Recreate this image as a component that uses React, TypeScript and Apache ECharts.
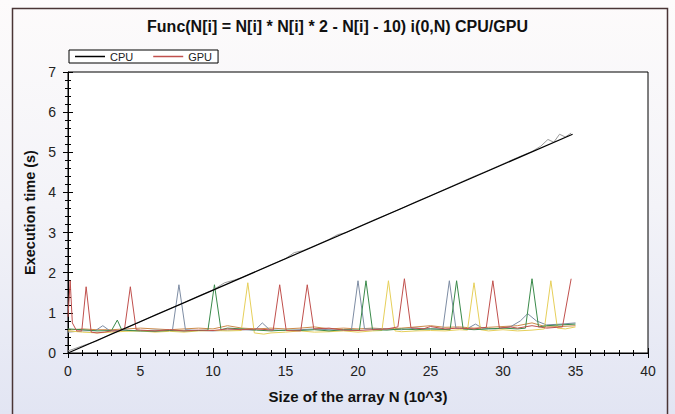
import React, { useEffect, useRef } from 'react';
import * as echarts from 'echarts';

const TITLE = 'Func(N[i] = N[i] * N[i] * 2 - N[i] - 10) i(0,N) CPU/GPU';
const X_NAME = 'Size of the array N (10^3)';
const Y_NAME = 'Execution time (s)';
const X_MIN = 0;
const X_MAX = 40;
const X_STEP = 5;
const Y_MIN = 0;
const Y_MAX = 7;
const Y_STEP = 1;
const LEGEND = ['CPU', 'GPU'];

const cpuTrend = [[0, 0], [34.8, 5.45]];

const cpuMeasured = [
  [0, 0.05], [1, 0.18], [2, 0.3], [3, 0.48], [4, 0.62], [5, 0.78], [6, 0.95], [7, 1.1], [8, 1.25],
  [9, 1.42], [10, 1.57], [10.8, 1.75], [11.5, 1.82], [12, 1.88], [13, 2.04], [14, 2.2], [15, 2.35],
  [15.6, 2.5], [16.2, 2.55], [17, 2.67], [18, 2.83], [18.6, 2.95], [19.2, 3.0], [20, 3.14], [21, 3.3],
  [22, 3.45], [23, 3.6], [24, 3.77], [25, 3.92], [26, 4.08], [27, 4.24], [28, 4.4], [29, 4.55],
  [30, 4.71], [31, 4.87], [32, 5.02], [32.6, 5.15], [33.1, 5.32], [33.5, 5.25], [33.9, 5.45],
  [34.3, 5.38], [34.7, 5.48],
];

const gpuRed = [
  [0, 0.9], [0.15, 1.8], [0.3, 0.75], [0.6, 0.55], [0.95, 0.55], [1.25, 1.65], [1.6, 0.52], [2, 0.5],
  [2.5, 0.52], [3, 0.55], [3.5, 0.55], [3.9, 0.6], [4.3, 1.65], [4.7, 0.58], [5, 0.57], [6, 0.55],
  [7, 0.58], [8, 0.55], [9, 0.57], [10, 0.56], [11, 0.6], [12, 0.58], [13, 0.6], [14.15, 0.57],
  [14.6, 1.7], [15.05, 0.56], [16.05, 0.55], [16.5, 1.7], [16.95, 0.6], [18, 0.62], [19, 0.57],
  [20, 0.56], [21, 0.58], [22, 0.6], [22.75, 0.65], [23.2, 1.85], [23.65, 0.63], [24.5, 0.6],
  [25, 0.66], [26, 0.6], [27, 0.62], [28, 0.6], [28.85, 0.64], [29.3, 1.8], [29.75, 0.62],
  [30.5, 0.65], [31, 0.62], [32, 0.68], [33, 0.62], [34.1, 0.65], [34.7, 1.85],
];

const gpuGreen = [
  [0, 0.6], [1, 0.58], [2, 0.55], [3, 0.56], [3.4, 0.82], [3.7, 0.58], [4.2, 0.56], [5, 0.55],
  [6, 0.54], [7, 0.56], [8, 0.55], [9, 0.56], [9.65, 0.57], [10.1, 1.7], [10.55, 0.58], [11, 0.62],
  [12, 0.6], [13, 0.57], [14, 0.55], [15, 0.57], [16, 0.56], [17, 0.58], [18, 0.55], [19, 0.58],
  [20.1, 0.57], [20.55, 1.8], [21.0, 0.58], [22, 0.57], [23, 0.6], [24, 0.58], [25, 0.6],
  [26.35, 0.58], [26.8, 1.8], [27.25, 0.6], [28, 0.58], [29, 0.6], [30, 0.62], [31, 0.6],
  [31.55, 0.62], [32.0, 1.85], [32.45, 0.65], [33, 0.68], [34, 0.7], [35, 0.72],
];

const gpuYellow = [
  [0, 0.55], [1, 0.52], [2, 0.5], [3, 0.52], [4, 0.54], [5, 0.55], [6, 0.52], [7, 0.54], [8, 0.52],
  [9, 0.55], [10, 0.56], [11, 0.55], [11.95, 0.56], [12.4, 1.75], [12.85, 0.5], [13.5, 0.47],
  [14, 0.5], [15, 0.52], [16, 0.55], [17, 0.52], [18, 0.53], [19, 0.55], [20, 0.52], [21, 0.55],
  [21.65, 0.56], [22.1, 1.8], [22.55, 0.55], [23, 0.53], [24, 0.55], [25, 0.56], [26, 0.55],
  [27, 0.58], [27.55, 0.57], [28.0, 1.75], [28.45, 0.58], [29, 0.55], [30, 0.58], [31, 0.55],
  [32, 0.57], [32.85, 0.6], [33.3, 1.8], [33.75, 0.62], [34.3, 0.6], [35, 0.65],
];

const gpuSlate = [
  [0, 0.52], [1, 0.55], [1.9, 0.56], [2.4, 0.68], [2.9, 0.55], [4, 0.57], [5, 0.55], [6, 0.57],
  [7.2, 0.56], [7.65, 1.7], [8.1, 0.58], [9, 0.56], [10, 0.55], [11, 0.57], [12, 0.58],
  [12.9, 0.57], [13.4, 0.75], [13.9, 0.58], [15, 0.56], [16, 0.58], [17, 0.6], [18, 0.58],
  [19, 0.57], [19.55, 0.58], [20.0, 1.8], [20.45, 0.6], [21, 0.6], [22, 0.6], [23, 0.58],
  [24, 0.62], [25, 0.6], [25.85, 0.6], [26.3, 1.8], [26.75, 0.62], [27.5, 0.6], [28.1, 0.72],
  [28.6, 0.62], [29.5, 0.6], [30.5, 0.65], [31.2, 0.8], [31.7, 0.98], [32.3, 0.8], [33, 0.7],
  [34, 0.72], [35, 0.75],
];

const gpuOrange = [
  [0, 0.57], [1, 0.6], [2, 0.58], [3, 0.58], [4, 0.6], [5, 0.62], [6, 0.6], [7, 0.58], [8, 0.6],
  [9, 0.62], [10, 0.6], [11, 0.68], [12, 0.62], [13, 0.6], [14, 0.62], [15, 0.6], [16, 0.62],
  [17, 0.65], [18, 0.6], [19, 0.62], [20, 0.6], [21, 0.62], [22, 0.6], [23, 0.62], [24, 0.65],
  [25, 0.68], [26, 0.64], [27, 0.65], [28, 0.62], [29, 0.64], [30, 0.66], [31, 0.68], [32, 0.75],
  [33, 0.65], [34, 0.66], [35, 0.68],
];

const FONT = '"Liberation Sans", Arial, sans-serif';

function lineSeries(name: string, data: number[][], color: string, width: number, z: number) {
  return {
    name,
    type: 'line',
    data,
    symbol: 'none',
    showSymbol: false,
    xAxisIndex: 0,
    yAxisIndex: 0,
    z,
    lineStyle: { color, width },
    itemStyle: { color },
  };
}

function xAxisCfg(position: string, inside: boolean, labels: boolean) {
  return {
    type: 'value',
    position,
    min: X_MIN,
    max: X_MAX,
    interval: X_STEP,
    name: labels ? X_NAME : '',
    nameLocation: 'middle',
    nameGap: 36,
    nameTextStyle: { fontFamily: FONT, fontSize: 15, fontWeight: 'bold', color: '#111' },
    axisLine: { show: labels, lineStyle: { color: '#000', width: 1 } },
    axisTick: { show: true, inside, length: 5, lineStyle: { color: '#000' } },
    minorTick: { show: true, splitNumber: 5, length: 3, lineStyle: { color: '#000' } },
    axisLabel: { show: labels, margin: 11, fontFamily: FONT, fontSize: 14, color: '#222' },
    splitLine: { show: false },
    minorSplitLine: { show: false },
  };
}

function yAxisCfg(position: string, inside: boolean, labels: boolean) {
  return {
    type: 'value',
    position,
    min: Y_MIN,
    max: Y_MAX,
    interval: Y_STEP,
    name: labels ? Y_NAME : '',
    nameLocation: 'middle',
    nameGap: 29,
    nameTextStyle: { fontFamily: FONT, fontSize: 14.5, fontWeight: 'bold', color: '#111' },
    axisLine: { show: labels, lineStyle: { color: '#000', width: 1 } },
    axisTick: { show: true, inside, length: 5, lineStyle: { color: '#000' } },
    minorTick: { show: true, splitNumber: 5, length: 3, lineStyle: { color: '#000' } },
    axisLabel: { show: labels, margin: 12, fontFamily: FONT, fontSize: 14, color: '#222' },
    splitLine: { show: false },
    minorSplitLine: { show: false },
  };
}

export default function App() {
  const ref = useRef<HTMLDivElement>(null);
  useEffect(() => {
    if (!ref.current) return;
    const chart = echarts.init(ref.current, undefined, { renderer: 'svg' });
    chart.setOption({
      animation: false,
      backgroundColor: 'transparent',
      title: {
        text: TITLE,
        left: 'center',
        top: 13,
        textStyle: { fontFamily: FONT, fontSize: 16, fontWeight: 'bold', color: '#111' },
      },
      legend: {
        data: LEGEND,
        icon: 'rect',
        left: 69,
        top: 50,
        orient: 'horizontal',
        itemWidth: 30,
        itemHeight: 1.5,
        itemGap: 20,
        padding: [1, 6],
        borderColor: '#000',
        borderWidth: 1,
        backgroundColor: '#fff',
        textStyle: { fontFamily: FONT, fontSize: 11, color: '#222' },
      },
      grid: {
        left: 68,
        right: 27,
        top: 72,
        bottom: 61,
        show: true,
        backgroundColor: '#fff',
        borderColor: '#000',
        borderWidth: 1,
        containLabel: false,
      },
      xAxis: [
        xAxisCfg('bottom', false, true),
        xAxisCfg('bottom', true, false),
        xAxisCfg('top', true, false),
      ],
      yAxis: [
        yAxisCfg('left', false, true),
        yAxisCfg('left', true, false),
        yAxisCfg('right', true, false),
      ],
      graphic: [
        {
          type: 'rect',
          silent: true,
          shape: { x: 12.5, y: 8.5, width: 655, height: 420 },
          style: { fill: 'none', stroke: '#4a3535', lineWidth: 1.5 },
        },
      ],
      series: [
        lineSeries('GPU orange', gpuOrange, '#cc8a4a', 1, 2),
        lineSeries('GPU slate', gpuSlate, '#7d8ca3', 1, 2),
        lineSeries('GPU yellow', gpuYellow, '#e6cf5a', 1, 2),
        lineSeries('GPU green', gpuGreen, '#3a8a4a', 1, 2),
        lineSeries('GPU', gpuRed, '#c0504d', 1, 3),
        lineSeries('CPU measured', cpuMeasured, '#9a9a9a', 1, 4),
        lineSeries('CPU', cpuTrend, '#000', 1.2, 5),
      ],
    });
    return () => chart.dispose();
  }, []);
  return (
    <div
      style={{
        position: 'fixed',
        left: 0,
        top: 0,
        width: 675,
        height: 414,
        background: 'linear-gradient(to bottom, #fdfbfb 0%, #f3f3f8 50%, #e2e5f3 100%)',
      }}
    >
      <div ref={ref} style={{ width: 675, height: 414 }} />
    </div>
  );
}
